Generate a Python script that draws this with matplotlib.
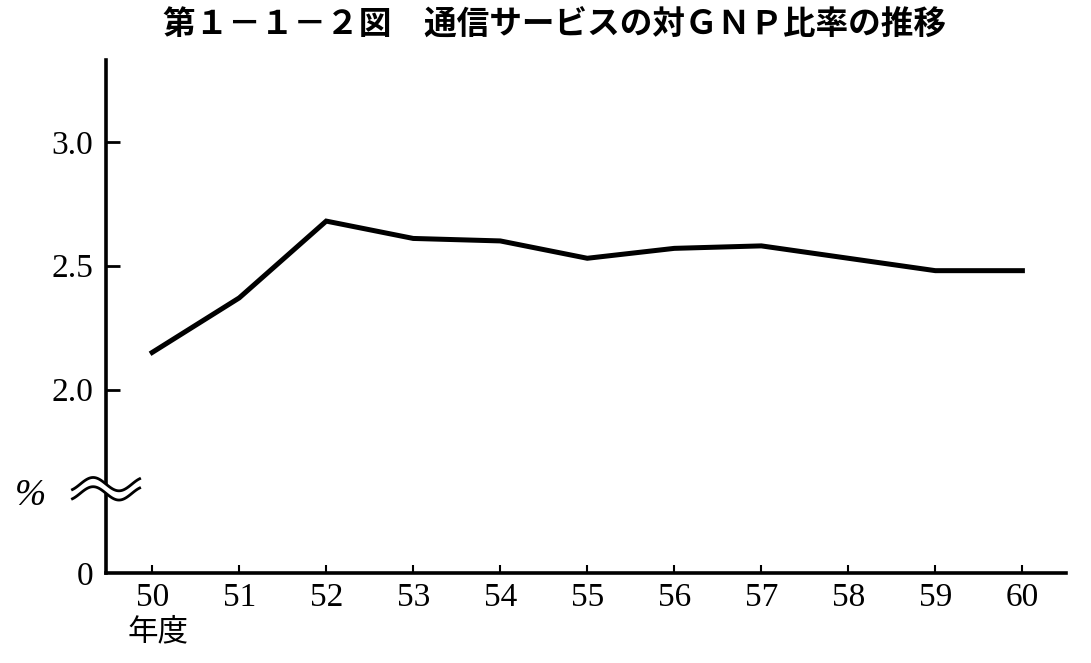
import numpy as np
import matplotlib
matplotlib.use('Agg')
import matplotlib.pyplot as plt

years = [50, 51, 52, 53, 54, 55, 56, 57, 58, 59, 60]
ratio = [2.15, 2.37, 2.68, 2.61, 2.60, 2.53, 2.57, 2.58, 2.53, 2.48, 2.48]
ytick_vals = [0, 2.0, 2.5, 3.0]
ytick_labels = ['0', '2.0', '2.5', '3.0']
title = '第１－１－２図　通信サービスの対ＧＮＰ比率の推移'

# broken y axis: everything below BRK is squeezed into a short stub
BRK = 1.6
STUB = 0.34


def fwd(v):
    v = np.asarray(v, dtype=float)
    return np.where(v < BRK, v * STUB / BRK, v - BRK + STUB)


def inv(u):
    u = np.asarray(u, dtype=float)
    return np.where(u < STUB, u * BRK / STUB, u + BRK - STUB)


fig = plt.figure(figsize=(10.91, 6.63), dpi=100)
ax = fig.add_axes([0.0972, 0.1357, 0.8798, 0.7738])
ax.set_yscale('function', functions=(fwd, inv))

ax.plot(years, ratio, color='black', lw=3.6, solid_joinstyle='miter')

ax.set_xlim(49.47, 60.5)
ax.set_ylim(0, 3.33)

for s in ['top', 'right']:
    ax.spines[s].set_visible(False)
for s in ['left', 'bottom']:
    ax.spines[s].set_linewidth(2.6)

ax.set_xticks(years)
ax.set_xticklabels([str(y) for y in years], fontsize=24, family='Liberation Serif')
ax.set_yticks(ytick_vals)
ax.set_yticklabels(ytick_labels, fontsize=24, family='Liberation Serif')
ax.tick_params(axis='y', direction='in', length=10, width=2, pad=9)
ax.tick_params(axis='x', direction='in', length=6, width=1.5, pad=7)
ax.yaxis.get_major_ticks()[0].tick1line.set_visible(False)

# break marks on the y axis
yb = float(fwd(BRK) / fwd(3.33))
t = np.linspace(-0.15, 1.15, 80)
wx = -0.035 + (t + 0.15) / 1.3 * 0.07
amp = 0.013
gap = 0.018
w1 = yb + gap / 2 + amp * np.sin(2 * np.pi * t)
w2 = yb - gap / 2 + amp * np.sin(2 * np.pi * t)
ax.fill_between(wx, w2, w1, color='white', transform=ax.transAxes,
                clip_on=False, zorder=5)
ax.plot(wx, w1, color='black', lw=2, transform=ax.transAxes, clip_on=False, zorder=6)
ax.plot(wx, w2, color='black', lw=2, transform=ax.transAxes, clip_on=False, zorder=6)

fig.text(30 / 1091, 1 - 496 / 663, '%', fontsize=27, family='Liberation Serif',
         style='italic', ha='center', va='center')
fig.text(158 / 1091, 1 - 632 / 663, '年度', fontsize=22, family='Noto Sans CJK JP',
         ha='center', va='center')
fig.text(0.508, 0.962, title, fontsize=23.5, family='Noto Sans CJK JP', fontweight='bold',
         ha='center', va='center')

fig.savefig('out.png', dpi=100)
